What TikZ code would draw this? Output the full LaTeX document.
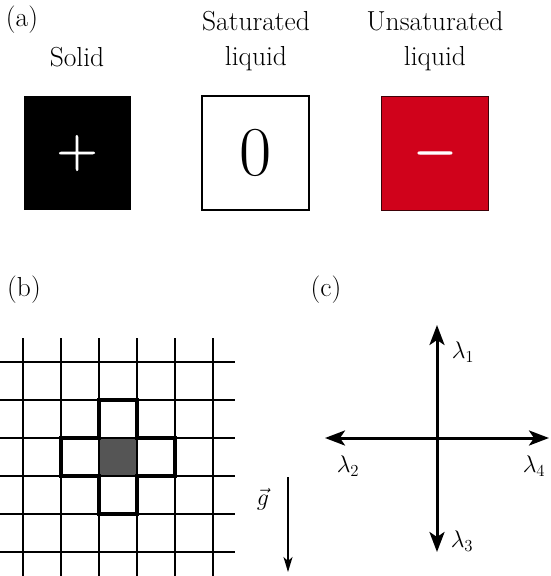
\documentclass[tikz,border=0pt]{standalone}
\usepackage{fix-cm}
\usetikzlibrary{arrows.meta}
\definecolor{unsat}{HTML}{D0021B}
\definecolor{cellgray}{HTML}{555555}
\newcommand{\heavysym}[1]{\special{pdf:literal direct q 2 Tr 0.8 w 1 1 1 RG 0 J 0 j}#1\special{pdf:literal direct 0 Tr Q}}
\begin{document}
\begin{tikzpicture}[x=1pt,y=-1pt,
  lbl/.style={font=\fontsize{27.5}{32}\selectfont, inner sep=0pt},
  mlbl/.style={font=\fontsize{24}{28}\selectfont, inner sep=0pt},
  basetext/.style={lbl, anchor=base},
  statebox/.style={minimum width=107pt, minimum height=114pt, inner sep=0pt, line width=1.6pt},
  gridline/.style={line width=1.4pt},
  thick cross/.style={line width=3.6pt, line join=miter},
  lamarrow/.style={line width=3pt, -{Stealth[length=20pt,width=15pt,inset=5pt]}},
  garrow/.style={line width=1.3pt, -{Stealth[length=15pt,width=9pt,inset=4pt]}}]
\useasboundingbox (0,0) rectangle (550,576);
% ---------- (a)
\node[lbl] (la) at (22,20) {(a)};
\node[basetext] (tsolid) at (77,66) {Solid};
\node[basetext] (tsat1) at (256,30) {Saturated};
\node[basetext] (tsat2) at (256,65) {liquid};
\node[basetext] (tuns1) at (435,30) {Unsaturated};
\node[basetext] (tuns2) at (435,65) {liquid};
\node[statebox, fill=black, text=white, font=\fontsize{56}{56}\selectfont] (solid) at (77,153) {\heavysym{$+$}};
\node[statebox, draw=black, fill=white, font=\fontsize{70}{70}\selectfont] (sat) at (255.5,153) {0};
\node[statebox, draw=black!70!unsat, line width=0.8pt, fill=unsat, text=white, font=\fontsize{56}{56}\selectfont] (uns) at (435,153) {\heavysym{$-$}};
% ---------- (b)
\node[lbl] (lb) at (24,290) {(b)};
\fill[cellgray] (99,438) rectangle (137,476);
\foreach \x in {23,61,99,137,175,213} \draw[gridline] (\x,338) -- (\x,576);
\foreach \y in {362,400,438,476,514,552} \draw[gridline] (0,\y) -- (235,\y);
\draw[thick cross] (99,400) -- (137,400) -- (137,438) -- (175,438) -- (175,476) -- (137,476) -- (137,514) -- (99,514) -- (99,476) -- (61,476) -- (61,438) -- (99,438) -- cycle;
\draw[line width=2.4pt] (99,438) rectangle (137,476);
\coordinate (gtop) at (288,477);
\coordinate (gbot) at (288,572);
\draw[garrow] (gtop) -- (gbot);
\node[mlbl] (glabel) at (263,499) {$\vec{g}$};
% ---------- (c)
\node[lbl] (lc) at (326,290) {(c)};
\coordinate (o) at (437,438);
\coordinate (up) at (437,325);
\coordinate (down) at (437,552);
\coordinate (left) at (325,438);
\coordinate (right) at (549,438);
\draw[lamarrow] (o) -- (up);
\draw[lamarrow] (o) -- (down);
\draw[lamarrow] (o) -- (left);
\draw[lamarrow] (o) -- (right);
\node[mlbl] (l1) at (463,352) {$\lambda_1$};
\node[mlbl] (l2) at (348,466) {$\lambda_2$};
\node[mlbl] (l4) at (534,466) {$\lambda_4$};
\node[mlbl] (l3) at (462,541) {$\lambda_3$};
\end{tikzpicture}
\end{document}
